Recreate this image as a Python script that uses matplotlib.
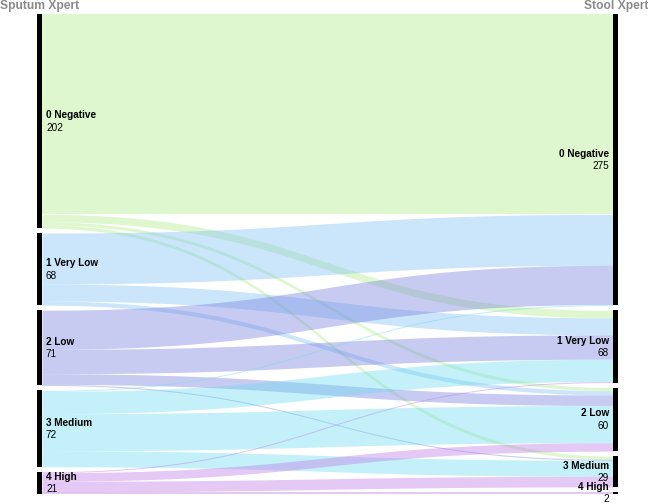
import numpy as np
import matplotlib
matplotlib.use("Agg")
import matplotlib.pyplot as plt

# sputum (left) and stool (right) Xpert grades
sputum_nodes = ["0 Negative", "1 Very Low", "2 Low", "3 Medium", "4 High"]
stool_nodes = ["0 Negative", "1 Very Low", "2 Low", "3 Medium", "4 High"]

# flows[i][j] = patients with sputum grade i and stool grade j
flows = np.array([
    [189, 7, 3, 3, 0],
    [48, 16, 4, 0, 0],
    [37, 23, 10, 1, 0],
    [1, 21, 35, 15, 0],
    [0, 1, 8, 10, 2],
])

link_colors = [(177, 235, 137), (127, 192, 245), (117, 127, 222),
               (108, 218, 240), (192, 120, 230)]
link_colors = [tuple(c / 255 for c in col) for col in link_colors]

W, H = 648, 504
top, bottom, gap = 14, 494, 5
xl0, xl1 = 37, 42      # left bar
xr0, xr1 = 613, 618    # right bar

left_tot = flows.sum(axis=1)
right_tot = flows.sum(axis=0)
k = (bottom - top - gap * (len(left_tot) - 1)) / left_tot.sum()


def node_tops(totals):
    ys, y = [], top
    for v in totals:
        ys.append(y)
        y += v * k + gap
    return np.array(ys)


left_y = node_tops(left_tot)
right_y = node_tops(right_tot)

plt.rcParams['font.family'] = ['Liberation Sans', 'DejaVu Sans']

fig = plt.figure(figsize=(W / 72, H / 72), dpi=72)
ax = fig.add_axes([0, 0, 1, 1])
ax.set_xlim(0, W)
ax.set_ylim(H, 0)
ax.axis("off")

# links
t = np.linspace(0, 1, 80)
xm = (xl1 + xr0) / 2
bx = (1 - t) ** 3 * xl1 + 3 * (1 - t) ** 2 * t * xm + 3 * (1 - t) * t ** 2 * xm + t ** 3 * xr0
h0 = (1 - t) ** 3 + 3 * (1 - t) ** 2 * t
h1 = 3 * (1 - t) * t ** 2 + t ** 3

src_off = left_y.copy()
tgt_off = right_y.copy()
for i in range(flows.shape[0]):
    for j in range(flows.shape[1]):
        v = flows[i, j]
        if v == 0:
            continue
        s0, t0 = src_off[i], tgt_off[j]
        src_off[i] += v * k
        tgt_off[j] += v * k
        ytop = h0 * s0 + h1 * t0
        ybot = h0 * (s0 + v * k) + h1 * (t0 + v * k)
        ax.fill_between(bx, ytop, ybot, color=link_colors[i], alpha=0.4, lw=0)

# node bars and labels
fs = 10
for i, name in enumerate(sputum_nodes):
    y0, hgt = left_y[i], left_tot[i] * k
    ax.fill_between([xl0, xl1], y0, y0 + hgt, color="black", lw=0)
    cy = y0 + hgt / 2
    ax.text(xl1 + 4, cy - 6, name, fontsize=fs, fontweight="bold", va="center", ha="left")
    ax.text(xl1 + 4, cy + 6.5, str(left_tot[i]), fontsize=fs, va="center", ha="left")

for j, name in enumerate(stool_nodes):
    y0, hgt = right_y[j], right_tot[j] * k
    ax.fill_between([xr0, xr1], y0, y0 + hgt, color="black", lw=0)
    cy = y0 + hgt / 2
    ax.text(xr0 - 4, cy - 6, name, fontsize=fs, fontweight="bold", va="center", ha="right")
    ax.text(xr0 - 4, cy + 6.5, str(right_tot[j]), fontsize=fs, va="center", ha="right")

ax.text(0, 6, "Sputum Xpert", fontsize=12, fontweight="bold", color="#8a8a8a", va="center", ha="left")
ax.text(W, 6, "Stool Xpert", fontsize=12, fontweight="bold", color="#8a8a8a", va="center", ha="right")

fig.savefig("out.png", dpi=72)
